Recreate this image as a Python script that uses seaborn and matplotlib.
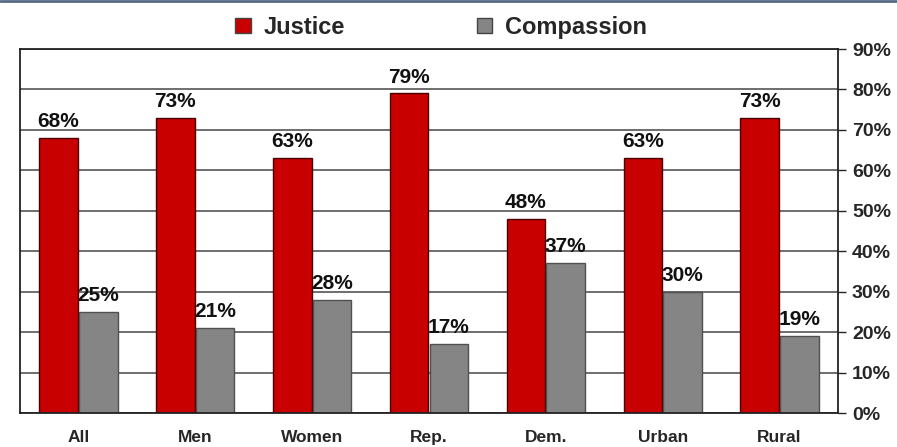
import pandas as pd
import matplotlib.pyplot as plt
import seaborn as sns
from matplotlib.lines import Line2D
from matplotlib.ticker import FuncFormatter

# Data
groups = ["All", "Men", "Women", "Rep.", "Dem.", "Urban", "Rural"]
justice = [68, 73, 63, 79, 48, 63, 73]
compassion = [25, 21, 28, 17, 37, 30, 19]
series = ["Justice", "Compassion"]
colors = ["#c80000", "#858585"]

df = pd.DataFrame({"Group": groups * 2,
                   "Series": [series[0]] * len(groups) + [series[1]] * len(groups),
                   "Value": justice + compassion})

sns.set_style("white")
plt.rcParams["font.family"] = ["Liberation Sans", "DejaVu Sans"]

fig = plt.figure(figsize=(8.97, 4.47), dpi=100)
ax = fig.add_axes([20 / 897, 34 / 447, 818 / 897, 364 / 447])

sns.barplot(data=df, x="Group", y="Value", hue="Series", palette=colors,
            saturation=1, width=0.68, gap=0.03, ax=ax, legend=False,
            linewidth=1.0)

# darker edges for a little depth
for i, patch in enumerate(ax.patches[:2 * len(groups)]):
    patch.set_edgecolor("#4a0000" if i < len(groups) else "#505050")

for cont in ax.containers:
    ax.bar_label(cont, labels=[f"{int(v)}%" for v in cont.datavalues],
                 padding=5, fontsize=15, fontweight="bold", color="#111111")

ax.set_ylim(0, 90)
ax.set_xlim(-0.5, 6.5)
ax.yaxis.tick_right()
ax.set_yticks(range(0, 91, 10))
ax.yaxis.set_major_formatter(FuncFormatter(lambda v, p: f"{int(v)}%"))
ax.tick_params(axis="y", right=True, length=6, width=1, labelsize=14, pad=4)
ax.tick_params(axis="x", bottom=False, labelsize=12.5, pad=9)
for lbl in ax.get_yticklabels() + ax.get_xticklabels():
    lbl.set_fontweight("bold")
ax.set_xlabel("")
ax.set_ylabel("")
ax.yaxis.grid(True, color="#555555", linewidth=1.2)
ax.set_axisbelow(True)
for side in ["left", "right", "top", "bottom"]:
    ax.spines[side].set_visible(True)
    ax.spines[side].set_color("#222222")
    ax.spines[side].set_linewidth(1.3)

handles = [plt.Rectangle((0, 0), 1, 1, facecolor=c, edgecolor="#444444") for c in colors]
fig.legend(handles, series, loc="upper center", bbox_to_anchor=(0.492, 1.012),
           ncol=2, frameon=False, prop={"size": 17, "weight": "bold"},
           handlelength=0.65, handleheight=0.65, columnspacing=5.6, handletextpad=0.55)

fig.add_artist(Line2D([0, 1], [0.997, 0.997], color="#5a6a86", linewidth=2,
                      transform=fig.transFigure))

fig.savefig("out.png", dpi=100)
